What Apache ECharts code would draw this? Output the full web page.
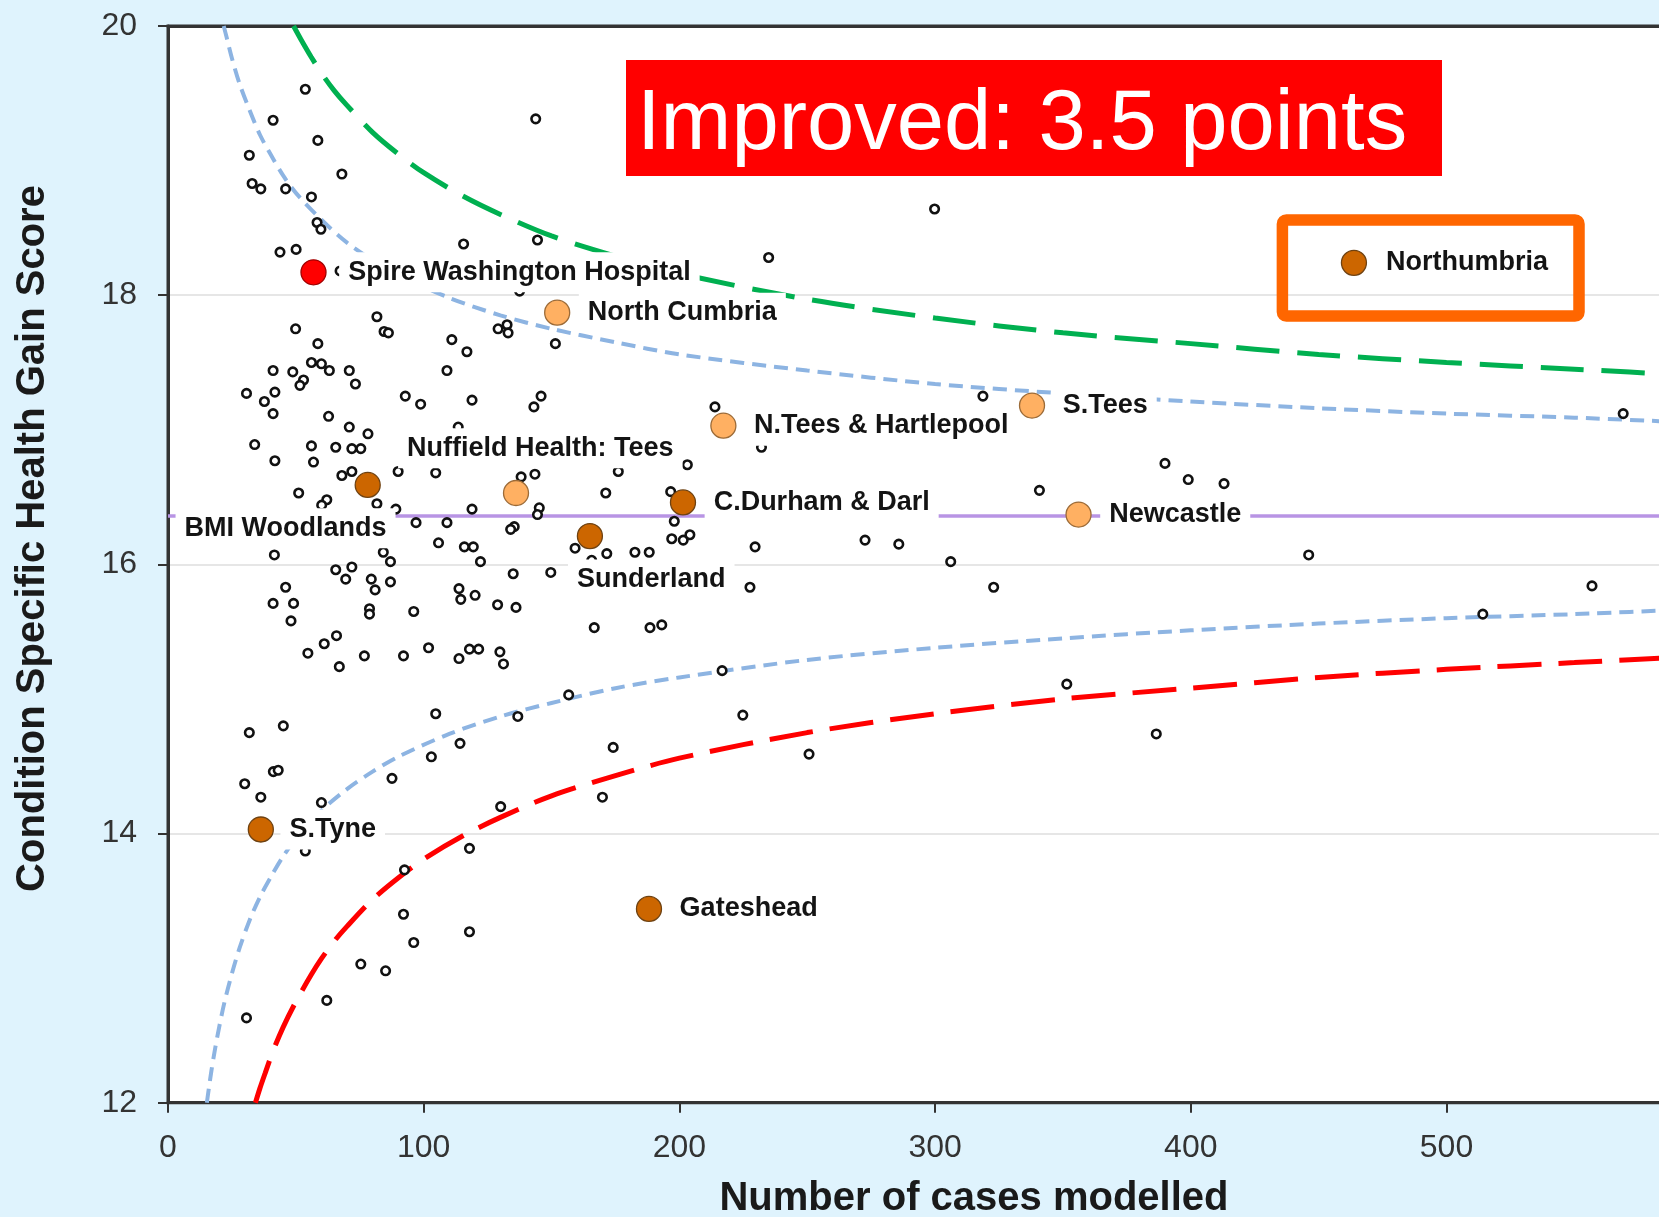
<!DOCTYPE html>
<html>
<head>
<meta charset="utf-8">
<script src="https://cdn.jsdelivr.net/npm/echarts@6.0.0/dist/echarts.min.js"></script>
<style>
html,body{margin:0;padding:0;background:#DFF3FD;}
#chart{width:1659px;height:1217px;}
</style>
</head>
<body>
<div id="chart"></div>
<script>
// ---------------- DATA ----------------
const xTickValues = [0, 100, 200, 300, 400, 500];
const yTickValues = [12, 14, 16, 18, 20];

// small open-circle providers: number of cases, health gain score
const caseCounts = [
  53.7, 41.1, 58.6, 31.8, 68.0, 32.9, 36.3, 46.0, 56.1, 58.3, 59.8, 43.8, 50.1, 115.6, 144.5, 143.8, 234.9, 299.8, 67.3,
  81.7, 84.5, 86.2, 49.9, 58.6, 41.1, 48.8, 53.0, 51.6, 56.1, 60.0, 63.1, 70.9, 73.3, 30.7, 37.7, 41.8, 41.1, 92.8, 98.8,
  111.0, 116.9, 109.1, 118.9, 129.1, 132.6, 133.0, 151.5, 145.9, 143.1, 62.8, 318.7, 213.9,
  70.9, 78.2, 33.9, 56.1, 56.9, 65.6, 71.9, 75.4, 41.8, 68.0, 71.9, 90.0, 104.7, 143.5, 138.1, 51.1, 62.1, 60.1, 81.7, 89.1,
  118.9, 145.2, 144.5, 97.0, 109.1, 135.4, 134.0, 105.8, 115.9, 119.4, 122.2, 41.6, 84.2, 87.0, 135.0, 149.7, 65.6, 71.9,
  69.5, 79.5, 81.0, 87.0, 46.0, 41.1, 49.1, 48.1, 78.8, 78.8, 96.1, 113.8, 114.5, 120.1, 128.9, 136.1, 65.9, 61.1, 54.7,
  67.0, 76.8, 92.1, 101.9, 113.8, 117.9, 121.5, 129.8, 131.2, 104.7, 136.8, 31.8, 45.1, 114.2, 103.0, 41.2, 43.1, 87.6,
  30.0, 36.3, 60.0, 130.1, 92.5, 117.9, 92.1, 117.9, 96.1, 75.4, 85.1, 62.1, 30.7, 53.7,
  203.1, 176.1, 171.2, 196.6, 198.0, 159.2, 171.6, 182.6, 188.2, 197.0, 201.5, 204.1, 229.6, 227.6, 166.7, 188.5, 193.1,
  232.1, 340.8, 272.6, 285.8, 306.1, 322.9, 216.7, 156.7, 351.5, 224.8, 174.1, 250.7, 169.9,
  569.1, 389.9, 399.0, 413.0, 446.1, 556.9, 514.2, 386.5, 113.5, 137.5, 165.7
];
const gainScores = [
  19.53, 19.30, 19.15, 19.04, 18.90, 18.83, 18.79, 18.79, 18.73, 18.54, 18.49, 18.32, 18.34, 18.38, 18.41, 19.31, 18.28, 18.64, 18.18,
  17.84, 17.73, 17.72, 17.75, 17.64, 17.44, 17.43, 17.37, 17.33, 17.50, 17.49, 17.44, 17.44, 17.34, 17.27, 17.21, 17.28, 17.12, 17.25, 17.19,
  17.67, 17.58, 17.44, 17.22, 17.75, 17.78, 17.72, 17.64, 17.25, 17.17, 17.10, 17.25, 17.17,
  17.02, 16.97, 16.89, 16.88, 16.76, 16.87, 16.86, 16.86, 16.77, 16.66, 16.69, 16.69, 16.68, 16.67, 16.65, 16.53, 16.48, 16.44, 16.45, 16.41,
  16.41, 16.42, 16.37, 16.31, 16.31, 16.28, 16.26, 16.16, 16.13, 16.13, 16.02, 16.07, 16.09, 16.02, 15.93, 15.94, 15.96, 15.98,
  15.89, 15.89, 15.81, 15.87, 15.83, 15.71, 15.71, 15.58, 15.67, 15.63, 15.65, 15.82, 15.74, 15.77, 15.70, 15.68, 15.47, 15.41, 15.34,
  15.24, 15.32, 15.32, 15.38, 15.30, 15.37, 15.37, 15.35, 15.26, 14.89, 14.87, 14.75, 14.80, 14.67, 14.57, 14.46, 14.47, 14.41,
  14.37, 14.27, 14.23, 14.20, 13.73, 13.89, 13.40, 13.27, 13.19, 13.03, 12.98, 12.76, 12.63, 13.87,
  16.74, 16.69, 16.53, 16.54, 16.32, 16.12, 16.08, 16.09, 16.09, 16.19, 16.18, 16.22, 16.13, 15.83, 15.53, 15.53, 15.55,
  16.87, 16.55, 16.18, 16.15, 16.02, 15.83, 15.21, 15.03, 15.11, 14.88, 14.64, 14.59, 14.27,
  17.12, 16.75, 16.63, 16.60, 16.07, 15.84, 15.63, 14.74, 17.02, 18.03, 16.03
];

// highlighted providers
const trustNames  = ['Spire Washington Hospital', 'North Cumbria', 'N.Tees & Hartlepool', 'S.Tees', 'Nuffield Health: Tees',
                     'BMI Woodlands', 'C.Durham & Darl', 'Newcastle', 'Sunderland', 'S.Tyne', 'Gateshead', 'Northumbria'];
const trustCases  = [56.9, 152.2, 217.2, 337.9, 136.1, 78.1, 201.4, 356.1, 165.0, 36.3, 188.1, 463.8];
const trustScores = [18.17, 17.87, 17.03, 17.18, 16.53, 16.59, 16.46, 16.37, 16.21, 14.03, 13.44, 18.24];
const trustGroups = ['spire', 'light', 'light', 'light', 'light', 'dark', 'dark', 'light', 'dark', 'dark', 'dark', 'dark'];

// national mean
const meanScore = 16.36;
const meanRange = [0, 600];

// control limits: [cases, score]
const upper95 = [[21.8,20.0],[23,19.91],[25,19.76],[28,19.57],[32,19.37],[36,19.19],[40,19.05],[45,18.89],[50,18.76],[60,18.56],
  [70,18.39],[80,18.26],[90,18.15],[110,17.98],[130,17.85],[150,17.75],[175,17.65],[200,17.56],[250,17.44],[300,17.34],
  [350,17.27],[400,17.21],[450,17.16],[500,17.12],[550,17.09],[600,17.05]];
const lower95 = [[15.2,12.0],[16,12.11],[17,12.24],[18.5,12.41],[20,12.56],[22,12.74],[25,12.96],[28,13.15],[32,13.36],[36,13.53],
  [40,13.67],[45,13.83],[50,13.96],[60,14.17],[70,14.33],[80,14.46],[90,14.57],[110,14.74],[130,14.87],[150,14.97],[175,15.08],
  [200,15.16],[250,15.29],[300,15.38],[350,15.45],[400,15.51],[450,15.56],[500,15.60],[550,15.63],[600,15.67]];
const upper998 = [[49.1,20.0],[52,19.90],[56,19.77],[60,19.65],[65,19.52],[70,19.41],[80,19.21],[90,19.05],[100,18.91],[115,18.74],
  [130,18.60],[150,18.44],[175,18.29],[200,18.16],[250,17.97],[300,17.83],[350,17.72],[400,17.64],[450,17.56],[500,17.50],
  [550,17.45],[600,17.40]];
const lower998 = [[34.2,12.0],[36,12.11],[38,12.22],[41,12.38],[45,12.56],[50,12.75],[56,12.95],[60,13.07],[65,13.20],[70,13.31],
  [80,13.51],[90,13.67],[100,13.81],[115,13.98],[130,14.12],[150,14.28],[175,14.43],[200,14.56],[250,14.75],[300,14.89],
  [350,15.00],[400,15.08],[450,15.16],[500,15.22],[550,15.27],[600,15.32]];

const headline = 'Improved: 3.5 points';
const xAxisTitle = 'Number of cases modelled';
const yAxisTitle = 'Condition Specific Health Gain Score';

// ---------------- STYLES ----------------
const FONT = '"Liberation Sans", Arial, Helvetica, sans-serif';
const groupColors = {
  spire: {fill: '#FF0000', border: '#A00000'},
  light: {fill: '#FFB062', border: '#9C6B38'},
  dark:  {fill: '#CC6600', border: '#6E4212'}
};
const MARK = 25;  // highlighted marker diameter
// label placement per provider (pixel offsets of label centre from marker centre)
const labelPlacement = {
  'Spire Washington Hospital': {distance: 12.5},
  'Nuffield Health: Tees': {center: [25, -44]},
  'Sunderland': {center: [62, 44]},
  'BMI Woodlands': {center: [-81.5, 44]},
  'S.Tyne': {distance: 6.5},
  'Northumbria': {distance: 10}
};

const chart = echarts.init(document.getElementById('chart'), null, {renderer: 'canvas'});

const pointData = caseCounts.map((c, i) => [c, gainScores[i]]);

const trustData = trustNames.map((name, i) => {
  const col = groupColors[trustGroups[i]];
  const pl = labelPlacement[name] || {distance: 8.5};
  const label = {
    show: true,
    formatter: '{b}',
    fontFamily: FONT,
    fontSize: 27,
    fontWeight: 'bold',
    color: '#141414',
    backgroundColor: '#ffffff',
    padding: [5, 9, 5, 9],
    lineHeight: 30
  };
  if (pl.center) {
    label.position = [MARK / 2 + pl.center[0], MARK / 2 + pl.center[1]];
    label.align = 'center';
    label.verticalAlign = 'middle';
  } else {
    label.position = 'right';
    label.distance = pl.distance;
  }
  return {
    name: name,
    value: [trustCases[i], trustScores[i]],
    itemStyle: {color: col.fill, borderColor: col.border, borderWidth: 1.3, opacity: 1},
    label: label
  };
});

const PX_PER_CASE = 2.557;
const frameAxis = {
  type: 'value', min: 0, max: 600, position: 'top',
  axisLine: {show: true, onZero: false, lineStyle: {color: '#333333', width: 3}},
  axisTick: {show: false}, axisLabel: {show: false}, splitLine: {show: false}
};

const option = {
  backgroundColor: '#DFF3FD',
  animation: false,
  textStyle: {fontFamily: FONT},
  grid: {
    left: 168, top: 26, width: 600 * PX_PER_CASE, height: 1076.7,
    outerBoundsMode: 'none', containLabel: false,
    show: true, backgroundColor: '#ffffff', borderColor: '#333333', borderWidth: 3
  },
  xAxis: [{
    type: 'value', min: xTickValues[0], max: 600, interval: 100, position: 'bottom',
    axisLine: {show: true, onZero: false, lineStyle: {color: '#333333', width: 3}},
    axisTick: {show: true, length: 10, lineStyle: {color: '#333333', width: 2}},
    axisLabel: {fontSize: 32, color: '#333333', margin: 29, fontFamily: FONT, showMaxLabel: false,
      formatter: v => xTickValues.indexOf(v) >= 0 ? String(v) : ''},
    splitLine: {show: false}
  }, frameAxis],
  yAxis: {
    type: 'value', min: yTickValues[0], max: yTickValues[yTickValues.length - 1], interval: 2,
    axisLine: {show: true, onZero: false, lineStyle: {color: '#333333', width: 3}},
    axisTick: {show: true, length: 10, lineStyle: {color: '#333333', width: 2}},
    axisLabel: {fontSize: 32, color: '#333333', margin: 31, fontFamily: FONT},
    splitLine: {show: true, lineStyle: {color: '#E6E6E6', width: 2}}
  },
  series: [
    {
      name: 'Mean', type: 'line', z: 2, silent: true, symbol: 'none',
      data: meanRange.map(x => [x, meanScore]),
      lineStyle: {color: '#B894E4', width: 3.5}
    },
    {
      name: 'Upper 95%', type: 'line', z: 2, silent: true, symbol: 'none', smooth: 0.3,
      data: upper95, lineStyle: {color: '#8DB4E2', width: 4, type: [14, 8]}
    },
    {
      name: 'Lower 95%', type: 'line', z: 2, silent: true, symbol: 'none', smooth: 0.3,
      data: lower95, lineStyle: {color: '#8DB4E2', width: 4, type: [14, 8]}
    },
    {
      name: 'Upper 99.8%', type: 'line', z: 2, silent: true, symbol: 'none', smooth: 0.3,
      data: upper998, lineStyle: {color: '#00B050', width: 5, type: [43, 18]}
    },
    {
      name: 'Lower 99.8%', type: 'line', z: 2, silent: true, symbol: 'none', smooth: 0.3,
      data: lower998, lineStyle: {color: '#FF0000', width: 5, type: [44, 17]}
    },
    {
      name: 'Providers', type: 'scatter', z: 3, silent: true,
      symbol: 'circle', symbolSize: 8.5,
      itemStyle: {color: '#ffffff', borderColor: '#111111', borderWidth: 2.6, opacity: 1},
      data: pointData
    },
    {
      name: 'Highlighted', type: 'scatter', z: 6, silent: true,
      symbol: 'circle', symbolSize: MARK,
      itemStyle: {opacity: 1},
      data: trustData
    }
  ],
  graphic: [
    {
      type: 'rect', z: 100, silent: true,
      shape: {x: 626, y: 60, width: 816, height: 116},
      style: {fill: '#FF0000'}
    },
    {
      type: 'text', z: 101, silent: true, x: 637, y: 126,
      style: {text: headline, fill: '#ffffff', fontSize: 85, fontFamily: FONT, fontWeight: 'normal',
              align: 'left', verticalAlign: 'middle', textAlign: 'left', textVerticalAlign: 'middle'}
    },
    {
      type: 'rect', z: 100, silent: true,
      shape: {x: 1282.4, y: 220, width: 296.6, height: 96, r: 4},
      style: {fill: 'none', stroke: '#FF6600', lineWidth: 11.5}
    },
    {
      type: 'text', z: 100, silent: true, x: 32.5, y: 538.5, rotation: Math.PI / 2,
      style: {text: yAxisTitle, fill: '#1a1a1a', fontSize: 40, fontWeight: 'bold', fontFamily: FONT,
              align: 'center', verticalAlign: 'middle', textAlign: 'center', textVerticalAlign: 'middle'}
    },
    {
      type: 'text', z: 100, silent: true, x: 974, y: 1199,
      style: {text: xAxisTitle, fill: '#1a1a1a', fontSize: 40, fontWeight: 'bold', fontFamily: FONT,
              align: 'center', verticalAlign: 'middle', textAlign: 'center', textVerticalAlign: 'middle'}
    }
  ]
};

chart.setOption(option);
</script>
</body>
</html>
